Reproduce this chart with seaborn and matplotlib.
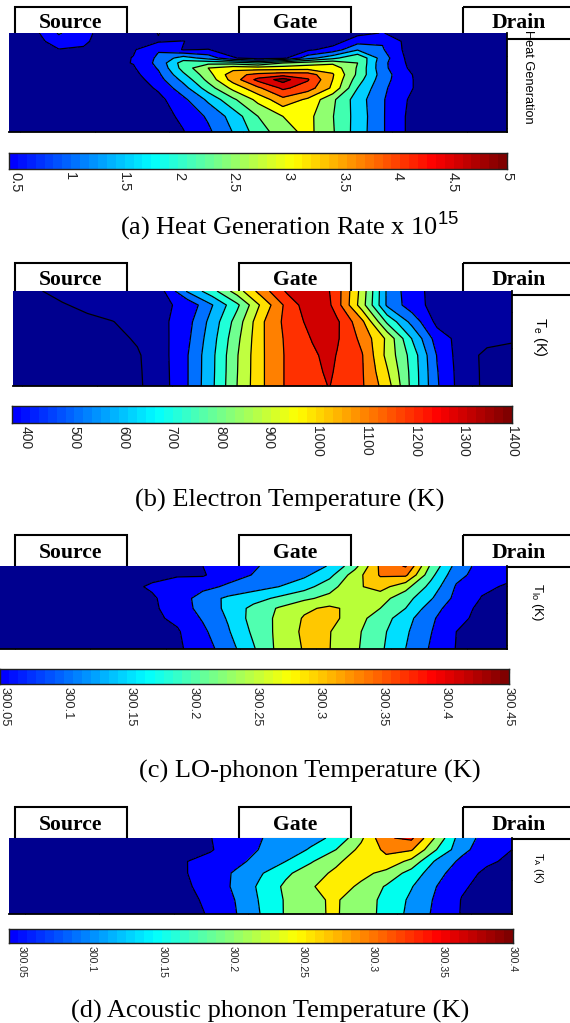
import matplotlib
matplotlib.use("Agg")
import matplotlib.pyplot as plt
import numpy as np
import seaborn as sns
from matplotlib.colors import LinearSegmentedColormap
from matplotlib.patches import Rectangle

# ---------------- data ----------------
# position along the channel (0-100) and depth (0-100, top to bottom)
heat_x = np.arange(0, 101, 5)
heat_y = [0, 8.4, 16.8, 25.3, 30.3, 35.4, 42.1, 47.1, 55.6, 67.3, 84.2, 100]
heat_z = [
    [.05, .365, .995, .635, .275, .14, .52, .14, .05, .05, .05, .05, .05, .14, .365, .52, .275, .095, .05, .05, .05],
    [.05, .275, .77, .57, .275, .365, .455, .52, .14, .095, .05, .05, .095, .275, .77, .905, .365, .095, .05, .05, .05],
    [.05, .14, .48, .455, .275, .455, .905, .47, .52, .23, .14, .23, .41, .68, 1.355, .995, .365, .095, .05, .05, .05],
    [.05, .095, .185, .23, .32, .52, 1.04, 1.625, 1.22, .545, .275, .365, 1.22, 1.715, 2.255, 1.175, .41, .095, .05, .05, .05],
    [.05, .05, .14, .23, .365, .52, 1.085, 2.075, 2.165, 2.12, 1.85, 2.3, 2.525, 2.66, 2.3, 1.085, .455, .095, .05, .05, .05],
    [.05, .05, .14, .23, .365, .455, .995, 2.03, 2.75, 3.02, 2.975, 2.975, 3.02, 3.02, 2.255, 1.085, .5, .095, .05, .05, .05],
    [.05, .05, .14, .23, .365, .365, .86, 1.76, 2.57, 3.49, 3.785, 3.92, 3.875, 3.245, 2.21, 1.175, .59, .14, .05, .05, .05],
    [.05, .05, .14, .23, .32, .275, .77, 1.535, 2.435, 3.4, 4.235, 4.73, 4.145, 3.2, 2.075, 1.13, .61, .14, .05, .05, .05],
    [.05, .05, .14, .23, .275, .23, .57, 1.22, 2.075, 2.885, 3.56, 4.19, 3.875, 3.11, 1.85, 1.04, .61, .14, .05, .05, .05],
    [.05, .05, .1, .18, .23, .14, .365, .84, 1.49, 2.21, 2.885, 3.515, 3.11, 2.39, 1.625, .995, .5, .14, .05, .05, .05],
    [.05, .05, .08, .12, .16, .2, .32, .59, 1.02, 1.58, 2.3, 2.75, 2.885, 2.32, 1.67, .995, .455, .185, .05, .05, .05],
    [.05, .05, .07, .1, .14, .18, .275, .48, .86, 1.42, 2.075, 2.55, 2.885, 2.345, 1.65, .995, .455, .185, .05, .05, .05],
]
heat_levels = [.5, .95, 1.4, 1.85, 2.3, 2.75, 3.2, 3.65, 4.1, 4.55]

te_x = [0, 5, 10, 15, 20, 25, 30, 35, 40, 45, 50, 55, 60, 63.4, 65, 70, 75, 80, 85, 90, 95, 100]
te_y = [0, 14.8, 32.4, 50, 67.6, 85.2, 100]
te_z = [
    [270, 305, 330, 345, 360, 370, 385, 591, 728, 897, 1078, 1225, 1270, 1212, 1159, 904, 565, 430, 370, 340, 330, 320],
    [250, 280, 305, 325, 345, 365, 385, 422, 577, 742, 965, 1150, 1280, 1225, 1159, 890, 565, 440, 365, 345, 335, 325],
    [250, 265, 280, 295, 308, 335, 380, 457, 616, 802, 1019, 1152, 1240, 1270, 1225, 1050, 742, 549, 375, 345, 330, 320],
    [240, 250, 260, 272, 285, 320, 375, 470, 636, 829, 1020, 1140, 1215, 1260, 1220, 1095, 922, 665, 446, 365, 335, 325],
    [235, 240, 248, 260, 275, 300, 370, 485, 650, 845, 1020, 1135, 1195, 1235, 1205, 1125, 914, 723, 485, 350, 290, 270],
    [230, 236, 244, 255, 272, 297, 367, 485, 652, 848, 1020, 1135, 1185, 1225, 1195, 1128, 950, 730, 495, 355, 290, 270],
    [225, 232, 240, 252, 270, 295, 365, 485, 655, 852, 1020, 1135, 1180, 1213, 1190, 1130, 982, 732, 500, 357, 290, 270],
]
te_levels = [310, 400, 490, 580, 670, 760, 850, 940, 1030, 1120, 1210]

# phonon temperatures are stored as K above 300
lo_x = np.arange(0, 101, 5)
lo_y = [0, 10.8, 24.9, 39, 51, 63, 79.1, 100]
lo_z = [
    [.02, .02, .02, .02, .02, .025, .03, .035, .05, .075, .095, .116, .135, .152, .233, .36, .405, .24, .133, .08, .065],
    [.02, .02, .02, .02, .025, .03, .04, .045, .045, .08, .102, .12, .14, .185, .275, .355, .36, .215, .115, .08, .06],
    [.02, .02, .02, .025, .03, .04, .055, .075, .085, .108, .13, .15, .18, .23, .29, .32, .267, .183, .095, .058, .046],
    [.02, .02, .02, .025, .03, .035, .045, .07, .124, .16, .18, .21, .24, .265, .285, .27, .22, .155, .085, .048, .03],
    [.02, .02, .02, .025, .03, .035, .04, .076, .115, .163, .215, .255, .29, .31, .285, .25, .2, .125, .07, .04, .025],
    [.02, .02, .02, .022, .025, .03, .04, .06, .105, .155, .22, .26, .305, .32, .27, .228, .17, .108, .065, .035, .025],
    [.02, .02, .02, .02, .025, .03, .035, .045, .089, .145, .21, .263, .31, .302, .262, .214, .158, .102, .05, .03, .02],
    [.02, .02, .02, .02, .022, .026, .032, .042, .075, .127, .195, .264, .304, .301, .259, .209, .15, .094, .048, .03, .02],
]
lo_levels = [.05, .1, .15, .2, .25, .3, .35, .4]

ac_x = np.arange(0, 101, 5)
ac_y = [0, 15.4, 30.8, 46.3, 63.9, 81.5, 100]
ac_z = [
    [.02, .02, .02, .02, .025, .025, .03, .035, .048, .08, .098, .12, .135, .16, .24, .345, .36, .24, .12, .085, .07],
    [.02, .02, .02, .02, .025, .03, .035, .04, .045, .08, .102, .125, .155, .2, .265, .31, .305, .2, .115, .07, .05],
    [.02, .02, .02, .02, .025, .03, .04, .048, .068, .088, .115, .15, .195, .24, .28, .285, .235, .14, .088, .058, .04],
    [.02, .02, .02, .02, .02, .025, .035, .047, .076, .105, .145, .19, .228, .26, .265, .235, .18, .117, .07, .04, .03],
    [.02, .02, .02, .02, .02, .022, .03, .042, .07, .108, .16, .21, .245, .275, .24, .195, .153, .1, .056, .035, .025],
    [.02, .02, .02, .02, .02, .02, .027, .037, .06, .101, .155, .205, .243, .255, .223, .187, .14, .092, .048, .032, .022],
    [.02, .02, .02, .02, .02, .02, .025, .035, .054, .097, .151, .205, .244, .254, .225, .184, .135, .088, .047, .032, .022],
]
ac_levels = [.05, .1, .15, .2, .25, .3, .35]

heat_ticks = [.5, 1, 1.5, 2, 2.5, 3, 3.5, 4, 4.5, 5]
heat_labels = ["0.5", "1", "1.5", "2", "2.5", "3", "3.5", "4", "4.5", "5"]
te_ticks = [400, 500, 600, 700, 800, 900, 1000, 1100, 1200, 1300, 1400]
te_labels = [str(t) for t in te_ticks]
lo_ticks = [300.05, 300.1, 300.15, 300.2, 300.25, 300.3, 300.35, 300.4, 300.45]
lo_labels = ["300.05", "300.1", "300.15", "300.2", "300.25", "300.3", "300.35", "300.4", "300.45"]
ac_ticks = [300.05, 300.1, 300.15, 300.2, 300.25, 300.3, 300.35, 300.4]
ac_labels = ["300.05", "300.1", "300.15", "300.2", "300.25", "300.3", "300.35", "300.4"]

regions = ["Source", "Gate", "Drain"]

# ---------------- look ----------------
W, H = 570, 1023
sns.set_style("white")
plt.rcParams["font.family"] = ["Liberation Serif", "DejaVu Serif"]
plt.rcParams["mathtext.fontset"] = "custom"
plt.rcParams["mathtext.rm"] = "Liberation Sans"
plt.rcParams["mathtext.it"] = "Liberation Sans"

bar_cmap = LinearSegmentedColormap.from_list(
    "jet_cut",
    [(0, "#0000ff"), (2 / 7, "#00ffff"), (4 / 7, "#ffff00"), (6 / 7, "#ff0000"), (1, "#800000")],
    N=56,
)

heat_colors = ["#000090", "#0000ff", "#0070ff", "#00d0ff", "#40ffb0", "#90ff70",
               "#ffff00", "#ffa800", "#ff4000", "#d80000", "#800000"]
te_colors = ["#00008f", "#00009f", "#0000ff", "#0070ff", "#00b8ff", "#20ffd8",
             "#70ff90", "#c0ff40", "#ffe000", "#ff8000", "#ff3000", "#d00000"]
lo_colors = ["#00008f", "#0000ff", "#0070ff", "#00dfff", "#50ffb0", "#b8ff38",
             "#ffc800", "#ff7000", "#ff1000"]
ac_colors = ["#00008f", "#0000ff", "#0090ff", "#00ffef", "#90ff70", "#ffee00",
             "#ff8000", "#ff1000"]

fig = plt.figure(figsize=(W / 100, H / 100), dpi=100)


def px_axes(x0, x1, y0, y1, **kw):
    return fig.add_axes([x0 / W, 1 - y1 / H, (x1 - x0) / W, (y1 - y0) / H], **kw)


# background layer for the contact boxes and the captions, in pixels
bg = px_axes(0, W, 0, H)
bg.set_xlim(0, W)
bg.set_ylim(H, 0)
bg.axis("off")


def panel(x, y, z, levels, colors, ticks_x, ticks_y, box, plot_px, bar_px, bar_lo, bar_hi, bar_ticks, bar_labels,
          bar_size, caption, caption_xy, side, side_xy, side_size):
    # contact boxes behind the plot
    x0, x1, y0, y1 = plot_px
    for name, bx0, bx1, tx in zip(regions, [15, 239, 463], [127, 351, 600], [71, 295, 519]):
        bg.add_patch(Rectangle((bx0, box[0]), bx1 - bx0, box[1] - box[0], fill=False, ec="black", lw=1.5))
        bg.text(tx, (box[0] + y0) / 2 + 3, name, ha="center", va="center", fontsize=15.6, fontweight="bold",
                color="black")

    ax = px_axes(x0, x1, y0, y1)
    ax.contourf(x, y, z, levels=levels, colors=colors, extend="both")
    ax.contour(x, y, z, levels=levels, colors="black", linewidths=0.9)
    ax.set_xlim(0, 100)
    ax.set_ylim(100, 0)
    ax.set_xticks(ticks_x)
    ax.set_yticks(ticks_y)
    ax.set_xticklabels([])
    ax.set_yticklabels([])
    ax.yaxis.tick_right()
    ax.tick_params(axis="both", direction="in", length=3, width=0.8, color="black", bottom=True, right=True)
    for s in ["left", "top"]:
        ax.spines[s].set_visible(False)
    for s in ["bottom", "right"]:
        ax.spines[s].set_linewidth(1.3)
        ax.spines[s].set_color("black")

    # colour bar: a one row heatmap
    cax = px_axes(*bar_px)
    ramp = np.linspace(bar_lo, bar_hi, 56)[None, :]
    sns.heatmap(ramp, ax=cax, cmap=bar_cmap, vmin=bar_lo, vmax=bar_hi, cbar=False, xticklabels=False,
                yticklabels=False)
    pos = [(t - bar_lo) / (bar_hi - bar_lo) * 56 for t in bar_ticks]
    cax.set_xticks(pos)
    cax.set_xticklabels(bar_labels, rotation=270, fontsize=bar_size, family="Liberation Sans")
    cax.set_yticks([])
    cax.tick_params(axis="x", direction="in", length=3, width=0.8, color="black", top=True, bottom=True, pad=2)
    for s in cax.spines.values():
        s.set_visible(True)
        s.set_linewidth(1.0)
        s.set_color("#202020")

    bg.text(caption_xy[0], caption_xy[1], caption, ha="center", va="center", fontsize=19, color="black")
    bg.text(side_xy[0], side_xy[1], side, ha="center", va="center", rotation=270, fontsize=side_size,
            family="Liberation Sans", color="black")


panel(heat_x, heat_y, heat_z, heat_levels, heat_colors,
      [2.2, 17.3, 32.1, 47, 62, 77, 92], [23.6, 60, 96], (7, 39),
      (9, 507, 33, 132), (9, 507, 153, 169), .445, 5, heat_ticks, heat_labels, 10.5,
      r"(a) Heat Generation Rate x 10$^{\mathrm{15}}$", (290, 227), "Heat Generation", (528, 77), 9.2)

panel(te_x, te_y, te_z, te_levels, te_colors,
      [2, 17, 32, 47, 62, 77, 92], [21.8, 59.9, 97.5], (263, 295),
      (12.5, 512, 291, 386), (12, 512, 406, 423), 372, 1400, te_ticks, te_labels, 10,
      "(b) Electron Temperature (K)", (290, 500), r"$\mathrm{T_e}$ (K)", (540, 337), 10.5)

panel(lo_x, lo_y, lo_z, lo_levels, lo_colors,
      [3, 17.8, 32.7, 47.3, 62.4, 77.1, 92.1], [23.7, 57, 95], (535, 567),
      (0, 507, 566, 649), (0, 509, 669, 684), 300.0465, 300.45, lo_ticks, lo_labels, 9.3,
      "(c) LO-phonon Temperature (K)", (310, 771), r"$\mathrm{T_{lo}}$ (K)", (537, 602), 9.5)

panel(ac_x, ac_y, ac_z, ac_levels, ac_colors,
      [3.1, 17.9, 32.8, 47.5, 62.4, 77.2, 91.8], [15.4, 55, 96], (807, 839),
      (9, 512, 838, 914), (9, 513, 929, 943), 300.0409, 300.4, ac_ticks, ac_labels, 7.6,
      "(d) Acoustic phonon Temperature (K)", (270, 1011), r"$\mathrm{T_A}$ (K)", (538, 868), 8)

fig.savefig("out.png", dpi=100)
